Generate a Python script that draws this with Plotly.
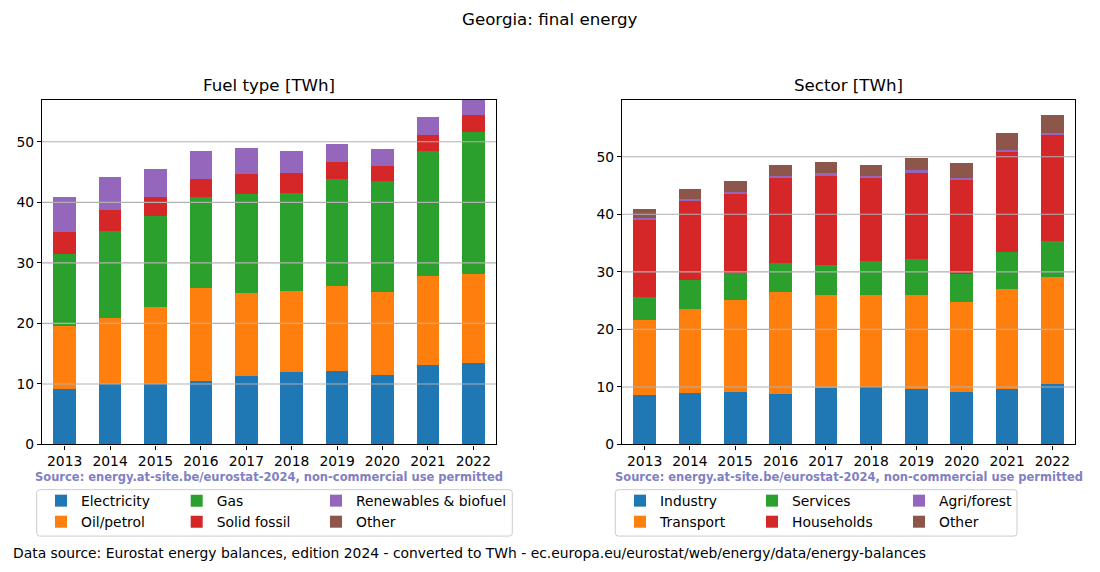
import plotly.graph_objects as go

years = ["2013", "2014", "2015", "2016", "2017", "2018", "2019", "2020", "2021", "2022"]

# Fuel type [TWh]
fuel_names = ["Electricity", "Oil/petrol", "Gas", "Solid fossil", "Renewables & biofuel", "Other"]
electricity = [9.09, 9.91, 9.91, 10.41, 11.23, 11.89, 12.06, 11.40, 13.05, 13.38]
oil_petrol = [10.46, 10.90, 12.72, 15.36, 13.71, 13.39, 14.04, 13.71, 14.70, 14.70]
gas = [11.84, 14.38, 15.09, 15.03, 16.36, 16.19, 17.68, 18.34, 20.65, 23.46]
solid_fossil = [3.63, 3.47, 3.08, 2.98, 3.30, 3.46, 2.81, 2.48, 2.65, 2.81]
renewables = [5.78, 5.45, 4.79, 4.62, 4.46, 3.47, 2.97, 2.80, 2.97, 2.83]
fuel_other = [0, 0, 0, 0, 0, 0, 0, 0, 0, 0]

# Sector [TWh]
sector_names = ["Industry", "Transport", "Services", "Households", "Agri/forest", "Other"]
industry = [8.52, 8.86, 9.04, 8.69, 9.73, 9.91, 9.56, 9.04, 9.56, 10.43]
transport = [13.03, 14.60, 15.99, 17.73, 16.17, 15.99, 16.34, 15.64, 17.38, 18.60]
services = [4.00, 5.05, 4.75, 5.04, 5.21, 5.91, 6.26, 4.93, 6.43, 6.25]
households = [13.62, 13.96, 13.85, 14.77, 15.65, 14.42, 15.12, 16.45, 17.56, 18.43]
agri_forest = [0.17, 0.17, 0.17, 0.35, 0.34, 0.35, 0.34, 0.17, 0.17, 0.35]
sector_other = [1.51, 1.68, 1.91, 1.91, 1.91, 1.91, 2.09, 2.61, 2.96, 3.12]

grid_ticks = [10, 20, 30, 40, 50]

colors = ["#1f77b4", "#ff7f0e", "#2ca02c", "#d62728", "#9467bd", "#8c564b"]

W, H = 1100, 572
X_OFF = 8     # horizontal page offset of the rendered figure
Y_OFF = 7.1   # vertical page offset of the rendered figure
Y_SCALE = 0.987
FONT = "DejaVu Sans"
S10 = 13.89
S12 = 16.67


def px(x):
    return (x - X_OFF) / W


def py(y):
    return 1 - ((y - Y_OFF) / Y_SCALE) / H


fig = go.Figure()

left_legends = ["legend", "legend2", "legend3"]
right_legends = ["legend4", "legend5", "legend6"]

fuel_series = [electricity, oil_petrol, gas, solid_fossil, renewables, fuel_other]
for i, (name, vals, col) in enumerate(zip(fuel_names, fuel_series, colors)):
    fig.add_trace(go.Bar(x=years, y=vals, name=name, marker_color=col, marker_line_width=0,
                         xaxis="x", yaxis="y", legend=left_legends[i // 2]))

sector_series = [industry, transport, services, households, agri_forest, sector_other]
for i, (name, vals, col) in enumerate(zip(sector_names, sector_series, colors)):
    fig.add_trace(go.Bar(x=years, y=vals, name=name, marker_color=col, marker_line_width=0,
                         xaxis="x2", yaxis="y2", legend=right_legends[i // 2]))

ax_common = dict(showline=True, linecolor="black", linewidth=1.1, mirror=True,
                 ticks="outside", ticklen=4, tickcolor="black", tickwidth=1.1,
                 tickfont=dict(family=FONT, size=S10, color="black"))

legend_common = dict(orientation="v", yanchor="top", xanchor="left", bgcolor="rgba(0,0,0,0)",
                     borderwidth=0, font=dict(family=FONT, size=S10, color="black"),
                     tracegroupgap=0, itemclick=False, itemdoubleclick=False, traceorder="normal")

LEG_TOP = 484.7
layout = dict(
    width=W, height=H,
    margin=dict(l=0, r=0, t=0, b=0),
    paper_bgcolor="white", plot_bgcolor="white",
    barmode="stack", bargap=0.5,
    font=dict(family=FONT, color="black"),
    showlegend=True,
    xaxis=dict(domain=[px(42), px(496)], anchor="y", showgrid=False, **ax_common),
    yaxis=dict(domain=[py(444), py(99)], anchor="x", range=[0, 56.94],
               showgrid=False, dtick=10, zeroline=False, **ax_common),
    xaxis2=dict(domain=[px(622), px(1075)], anchor="y2", showgrid=False, **ax_common),
    yaxis2=dict(domain=[py(444), py(99)], anchor="x2", range=[0, 59.9],
                showgrid=False, dtick=10, zeroline=False, **ax_common),
)
for name, xl in zip(left_legends + right_legends, [41, 176.7, 316, 620, 752, 899]):
    layout[name] = dict(x=px(xl), y=py(LEG_TOP), **legend_common)
fig.update_layout(**layout)

# gridlines drawn over the bars, as in the reference
for xr, yr in (("x domain", "y"), ("x2 domain", "y2")):
    for v in grid_ticks:
        fig.add_shape(type="line", xref=xr, yref=yr, x0=0, x1=1, y0=v, y1=v,
                      line=dict(color="#b0b0b0", width=1.1), layer="above")


def rounded_box(x0, y0, x1, y1, r=3):
    X0, X1 = px(x0), px(x1)
    Y0, Y1 = py(y0), py(y1)
    rx, ry = r / W, r / H
    return (f"M{X0 + rx},{Y0} L{X1 - rx},{Y0} Q{X1},{Y0} {X1},{Y0 - ry} "
            f"L{X1},{Y1 + ry} Q{X1},{Y1} {X1 - rx},{Y1} L{X0 + rx},{Y1} "
            f"Q{X0},{Y1} {X0},{Y1 + ry} L{X0},{Y0 - ry} Q{X0},{Y0} {X0 + rx},{Y0} Z")


for box in ((36.7, 489.3, 512.3, 535.7), (615.3, 489.3, 1017, 535.7)):
    fig.add_shape(type="path", xref="paper", yref="paper", path=rounded_box(*box),
                  line=dict(color="#cccccc", width=1), fillcolor="rgba(255,255,255,0.8)", layer="below")

ann = [
    ("Georgia: final energy", 550, 19, S12, "black"),
    ("Fuel type [TWh]", 269, 85, S12, "black"),
    ("Sector [TWh]", 848.5, 85, S12, "black"),
    ("<b>Source: energy.at-site.be/eurostat-2024, non-commercial use permitted</b>", 269, 477, 11.5, "#7f7fc4"),
    ("<b>Source: energy.at-site.be/eurostat-2024, non-commercial use permitted</b>", 848.5, 477, 11.5, "#7f7fc4"),
]
for text, x, y, size, color in ann:
    fig.add_annotation(text=text, x=px(x), y=py(y), xref="paper", yref="paper",
                       xanchor="center", yanchor="middle", showarrow=False,
                       font=dict(family=FONT, size=size, color=color))

fig.add_annotation(text="Data source: Eurostat energy balances, edition 2024 - converted to TWh - ec.europa.eu/eurostat/web/energy/data/energy-balances",
                   x=px(11), y=py(553), xref="paper", yref="paper", xanchor="left", yanchor="middle",
                   showarrow=False, font=dict(family=FONT, size=S10, color="black"))

fig.write_html("out.html")
